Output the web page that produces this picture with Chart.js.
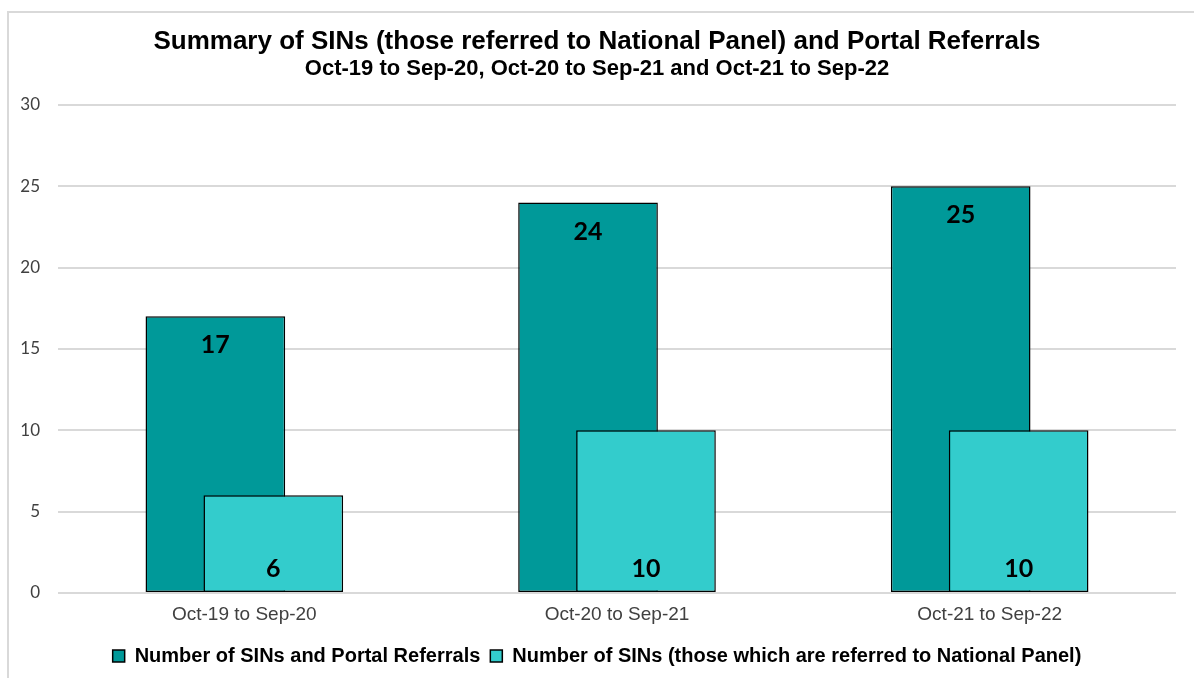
<!DOCTYPE html>
<html>
<head>
<meta charset="utf-8">
<script src="https://cdn.jsdelivr.net/npm/chart.js@4/dist/chart.umd.min.js"></script>
<style>
  html, body { margin: 0; padding: 0; background: #fff; overflow: hidden; }
  #frame { position: absolute; left: 7px; top: 11px; width: 1200px; height: 700px; border: 2px solid #d9d9d9; }
  #wrap { position: absolute; left: 0; top: 0; width: 1194px; height: 678px; }
</style>
</head>
<body>
<div id="frame"></div>
<div id="wrap"><canvas id="summary-chart"></canvas></div>
<script>
const periods = ["Oct-19 to Sep-20", "Oct-20 to Sep-21", "Oct-21 to Sep-22"];
const sinsAndPortal = [17, 24, 25];
const sinsToPanel = [6, 10, 10];
const yTicks = [0, 5, 10, 15, 20, 25, 30];

// Excel-style overlap: draw the left series first, then the right one over it, then the labels
const overlapDraw = {
    id: "overlapDraw",
    beforeDatasetsDraw(chart) {
        const metas = chart.getSortedVisibleDatasetMetas();
        metas.forEach(meta => meta.controller.draw());
        const ctx = chart.ctx;
        ctx.save();
        ctx.font = "bold 25px Lato";
        ctx.fillStyle = "#000";
        ctx.textAlign = "center";
        ctx.textBaseline = "middle";
        metas.forEach((meta, di) => {
            meta.data.forEach((bar, i) => {
                const v = chart.data.datasets[meta.index].data[i];
                const y = di === 0 ? bar.y + 29 : bar.base - 23;
                ctx.fillText(String(v), bar.x, y);
            });
        });
        ctx.restore();
        return false;
    }
};

const ctx = document.getElementById("summary-chart").getContext("2d");
new Chart(ctx, {
    type: "bar",
    data: {
        labels: periods,
        datasets: [{
            label: "Number of SINs and Portal Referrals",
            data: sinsAndPortal,
            backgroundColor: "#009999",
            borderColor: "#000",
            borderWidth: 1.5,
            borderSkipped: false
        }, {
            label: "Number of SINs (those which are referred to National Panel)",
            data: sinsToPanel,
            backgroundColor: "#33cccc",
            borderColor: "#000",
            borderWidth: 1.5,
            borderSkipped: false
        }]
    },
    options: {
        responsive: true,
        maintainAspectRatio: false,
        animation: false,
        categoryPercentage: 0.311,
        barPercentage: 2.41,
        layout: { padding: { left: 18, right: 18, top: 0, bottom: 2 } },
        plugins: {
            title: {
                display: true,
                text: "Summary of SINs (those referred to National Panel) and Portal Referrals",
                color: "#000",
                font: { family: "Liberation Sans", size: 26, weight: "bold", lineHeight: 1.1 },
                padding: { top: 28, bottom: 0 }
            },
            subtitle: {
                display: true,
                text: "Oct-19 to Sep-20, Oct-20 to Sep-21 and Oct-21 to Sep-22",
                color: "#000",
                font: { family: "Liberation Sans", size: 22, weight: "bold", lineHeight: 1.1 },
                padding: { top: 0, bottom: 24 }
            },
            legend: {
                position: "bottom",
                labels: {
                    color: "#000",
                    boxWidth: 12,
                    boxHeight: 12,
                    padding: 10,
                    font: { family: "Liberation Sans", size: 20, weight: "bold" }
                }
            },
            tooltip: { enabled: false }
        },
        scales: {
            x: {
                grid: { display: false },
                border: { display: false },
                ticks: {
                    color: "#404040",
                    padding: 2,
                    font: { family: "Liberation Sans", size: 19 }
                },
                afterFit(scale) { scale.height = 43; }
            },
            y: {
                min: 0,
                max: 30,
                afterBuildTicks(scale) { scale.ticks = yTicks.map(v => ({ value: v })); },
                grid: { color: "#d9d9d9", lineWidth: 2, drawTicks: false },
                border: { display: false },
                ticks: {
                    color: "#404040",
                    padding: 18,
                    font: { family: "Lato", size: 17 }
                },
                afterFit(scale) { scale.width = 40; }
            }
        }
    },
    plugins: [overlapDraw]
});
</script>
</body>
</html>
